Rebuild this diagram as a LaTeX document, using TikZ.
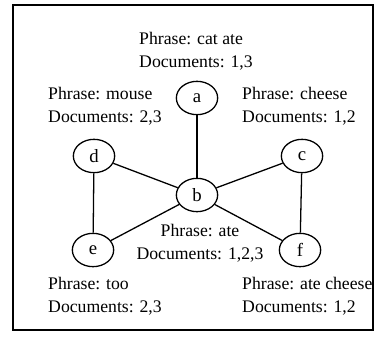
\documentclass[tikz,border=0pt]{standalone}
\usepackage{fontspec}
\setmainfont{Liberation Serif}
\usetikzlibrary{shapes.geometric}

\begin{document}
\begin{tikzpicture}[x=0.03cm, y=-0.03cm,
        vert/.style={ellipse, draw, line width=1.1pt, minimum width=1.24cm, minimum height=1cm, inner sep=0pt, font=\fontsize{16}{19}\selectfont},
        info/.style={anchor=base west, inner sep=0pt, align=left, font=\fontsize{15.1}{19.2}\selectfont}]
        \useasboundingbox (0,0) rectangle (377,339);
        \draw[line width=1.1pt] (13,5) rectangle (373,330);

        \node[vert] (a) at (197,98) {a};
        \node[vert] (b) at (197,195) {b};
        \node[vert] (c) at (302,156) {c};
        \node[vert] (d) at (94,156) {d};
        \node[vert] (e) at (93,250) {e};
        \node[vert] (f) at (300,250) {f};

        \draw[line width=1.1pt] (a) -- (b);
        \draw[line width=1.1pt] (b) -- (d);
        \draw[line width=1.1pt] (b) -- (c);
        \draw[line width=1.1pt] (b) -- (e);
        \draw[line width=1.1pt] (b) -- (f);
        \draw[line width=1.1pt] (d) -- (e);
        \draw[line width=1.1pt] (c) -- (f);

        % base anchor sits on the last line
        \node[info] (ta) at (139,67) {Phrase: cat ate\\Documents: 1,3};
        \node[info] (td) at (48,122) {Phrase: mouse\\Documents: 2,3};
        \node[info] (tc) at (242,122) {Phrase: cheese\\Documents: 1,2};
        \node[info, anchor=base, align=center] (tb) at (200,259) {Phrase: ate\\Documents: 1,2,3};
        \node[info] (te) at (48,312) {Phrase: too\\Documents: 2,3};
        \node[info] (tf) at (242,312) {Phrase: ate cheese\\Documents: 1,2};
    \end{tikzpicture}
\end{document}
